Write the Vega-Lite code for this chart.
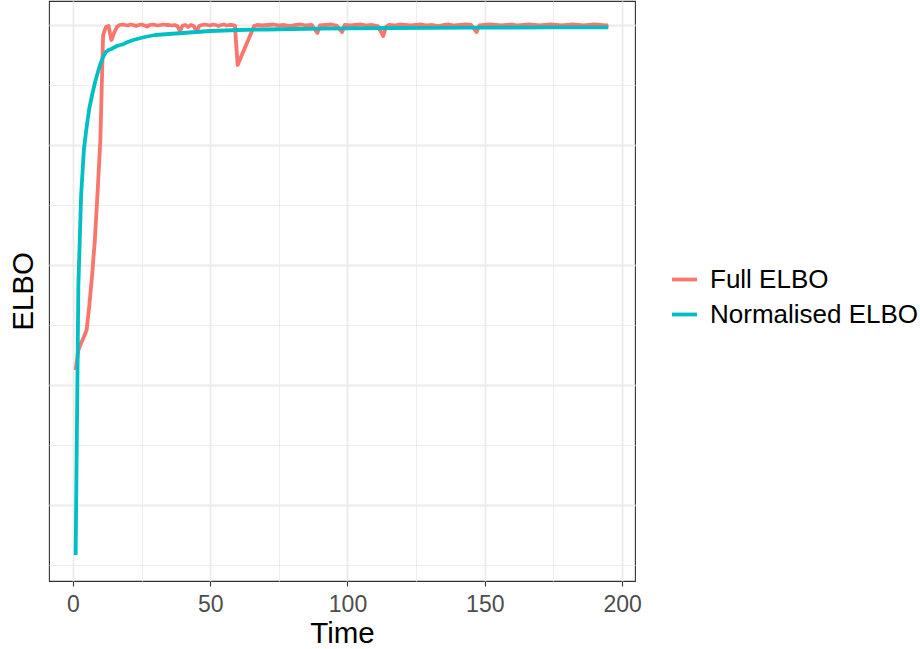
{
  "$schema": "https://vega.github.io/schema/vega-lite/v6.json",
  "autosize": "none",
  "width": 586,
  "height": 580,
  "padding": {"left": 49, "top": 1, "right": 285, "bottom": 68},
  "background": "white",
  "config": {
    "font": "Liberation Sans",
    "view": {"stroke": "#333333", "strokeWidth": 1.1},
    "axis": {"gridColor": "#EBEBEB", "domain": false}
  },
  "data": {
    "values": [
      {"t":1,"s":"Full ELBO","v":-34500},{"t":2,"s":"Full ELBO","v":-32500},{"t":3,"s":"Full ELBO","v":-31800},{"t":4,"s":"Full ELBO","v":-31200},{"t":5,"s":"Full ELBO","v":-30500},{"t":6,"s":"Full ELBO","v":-28000},{"t":7,"s":"Full ELBO","v":-25000},{"t":8,"s":"Full ELBO","v":-21500},{"t":9,"s":"Full ELBO","v":-16700},{"t":10,"s":"Full ELBO","v":-11500},{"t":11,"s":"Full ELBO","v":-1000},{"t":12,"s":"Full ELBO","v":-200},{"t":13,"s":"Full ELBO","v":-100},{"t":14,"s":"Full ELBO","v":-1500},{"t":15,"s":"Full ELBO","v":-800},{"t":16,"s":"Full ELBO","v":-200},{"t":17,"s":"Full ELBO","v":0},{"t":18,"s":"Full ELBO","v":50},{"t":19,"s":"Full ELBO","v":0},{"t":20,"s":"Full ELBO","v":-50},{"t":21,"s":"Full ELBO","v":50},{"t":22,"s":"Full ELBO","v":0},{"t":23,"s":"Full ELBO","v":-100},{"t":24,"s":"Full ELBO","v":0},{"t":25,"s":"Full ELBO","v":50},{"t":26,"s":"Full ELBO","v":-50},{"t":27,"s":"Full ELBO","v":-150},{"t":28,"s":"Full ELBO","v":0},{"t":29,"s":"Full ELBO","v":50},{"t":30,"s":"Full ELBO","v":0},{"t":31,"s":"Full ELBO","v":-50},{"t":32,"s":"Full ELBO","v":0},{"t":33,"s":"Full ELBO","v":50},{"t":34,"s":"Full ELBO","v":0},{"t":35,"s":"Full ELBO","v":0},{"t":36,"s":"Full ELBO","v":-50},{"t":37,"s":"Full ELBO","v":0},{"t":38,"s":"Full ELBO","v":-100},{"t":39,"s":"Full ELBO","v":-600},{"t":40,"s":"Full ELBO","v":-50},{"t":41,"s":"Full ELBO","v":0},{"t":42,"s":"Full ELBO","v":-200},{"t":43,"s":"Full ELBO","v":0},{"t":44,"s":"Full ELBO","v":-100},{"t":45,"s":"Full ELBO","v":-600},{"t":46,"s":"Full ELBO","v":-100},{"t":47,"s":"Full ELBO","v":0},{"t":48,"s":"Full ELBO","v":50},{"t":49,"s":"Full ELBO","v":0},{"t":50,"s":"Full ELBO","v":-50},{"t":51,"s":"Full ELBO","v":50},{"t":52,"s":"Full ELBO","v":0},{"t":53,"s":"Full ELBO","v":-100},{"t":54,"s":"Full ELBO","v":0},{"t":55,"s":"Full ELBO","v":50},{"t":56,"s":"Full ELBO","v":-50},{"t":57,"s":"Full ELBO","v":0},{"t":58,"s":"Full ELBO","v":0},{"t":59,"s":"Full ELBO","v":-50},{"t":60,"s":"Full ELBO","v":-4000},{"t":66,"s":"Full ELBO","v":-100},{"t":67,"s":"Full ELBO","v":0},{"t":69,"s":"Full ELBO","v":-50},{"t":71,"s":"Full ELBO","v":0},{"t":73,"s":"Full ELBO","v":50},{"t":75,"s":"Full ELBO","v":-50},{"t":77,"s":"Full ELBO","v":0},{"t":79,"s":"Full ELBO","v":-100},{"t":81,"s":"Full ELBO","v":0},{"t":83,"s":"Full ELBO","v":50},{"t":85,"s":"Full ELBO","v":-50},{"t":87,"s":"Full ELBO","v":0},{"t":89,"s":"Full ELBO","v":-800},{"t":90,"s":"Full ELBO","v":-50},{"t":92,"s":"Full ELBO","v":0},{"t":94,"s":"Full ELBO","v":50},{"t":96,"s":"Full ELBO","v":-50},{"t":98,"s":"Full ELBO","v":-700},{"t":99,"s":"Full ELBO","v":0},{"t":101,"s":"Full ELBO","v":-50},{"t":103,"s":"Full ELBO","v":0},{"t":105,"s":"Full ELBO","v":50},{"t":107,"s":"Full ELBO","v":-50},{"t":109,"s":"Full ELBO","v":0},{"t":111,"s":"Full ELBO","v":-100},{"t":113,"s":"Full ELBO","v":-1100},{"t":114,"s":"Full ELBO","v":-200},{"t":115,"s":"Full ELBO","v":0},{"t":117,"s":"Full ELBO","v":-50},{"t":119,"s":"Full ELBO","v":50},{"t":121,"s":"Full ELBO","v":0},{"t":123,"s":"Full ELBO","v":-50},{"t":125,"s":"Full ELBO","v":0},{"t":127,"s":"Full ELBO","v":50},{"t":129,"s":"Full ELBO","v":-50},{"t":131,"s":"Full ELBO","v":0},{"t":133,"s":"Full ELBO","v":-100},{"t":135,"s":"Full ELBO","v":0},{"t":137,"s":"Full ELBO","v":50},{"t":139,"s":"Full ELBO","v":-50},{"t":141,"s":"Full ELBO","v":0},{"t":143,"s":"Full ELBO","v":50},{"t":145,"s":"Full ELBO","v":0},{"t":147,"s":"Full ELBO","v":-700},{"t":148,"s":"Full ELBO","v":-50},{"t":150,"s":"Full ELBO","v":0},{"t":152,"s":"Full ELBO","v":50},{"t":154,"s":"Full ELBO","v":0},{"t":156,"s":"Full ELBO","v":-50},{"t":158,"s":"Full ELBO","v":0},{"t":160,"s":"Full ELBO","v":50},{"t":162,"s":"Full ELBO","v":-50},{"t":164,"s":"Full ELBO","v":0},{"t":166,"s":"Full ELBO","v":50},{"t":168,"s":"Full ELBO","v":0},{"t":170,"s":"Full ELBO","v":-50},{"t":172,"s":"Full ELBO","v":0},{"t":174,"s":"Full ELBO","v":50},{"t":176,"s":"Full ELBO","v":0},{"t":178,"s":"Full ELBO","v":-50},{"t":180,"s":"Full ELBO","v":0},{"t":182,"s":"Full ELBO","v":50},{"t":184,"s":"Full ELBO","v":0},{"t":186,"s":"Full ELBO","v":-50},{"t":188,"s":"Full ELBO","v":0},{"t":190,"s":"Full ELBO","v":50},{"t":192,"s":"Full ELBO","v":0},{"t":194,"s":"Full ELBO","v":-50},{"t":195,"s":"Full ELBO","v":0},
      {"t":1,"s":"Normalised ELBO","v":-53000},{"t":2,"s":"Normalised ELBO","v":-26000},{"t":3,"s":"Normalised ELBO","v":-17000},{"t":4,"s":"Normalised ELBO","v":-12500},{"t":5,"s":"Normalised ELBO","v":-10200},{"t":6,"s":"Normalised ELBO","v":-8300},{"t":7,"s":"Normalised ELBO","v":-7000},{"t":8,"s":"Normalised ELBO","v":-5800},{"t":9,"s":"Normalised ELBO","v":-4800},{"t":10,"s":"Normalised ELBO","v":-3900},{"t":11,"s":"Normalised ELBO","v":-3200},{"t":12,"s":"Normalised ELBO","v":-2700},{"t":13,"s":"Normalised ELBO","v":-2500},{"t":14,"s":"Normalised ELBO","v":-2400},{"t":15,"s":"Normalised ELBO","v":-2250},{"t":16,"s":"Normalised ELBO","v":-2100},{"t":18,"s":"Normalised ELBO","v":-1950},{"t":20,"s":"Normalised ELBO","v":-1700},{"t":22,"s":"Normalised ELBO","v":-1500},{"t":24,"s":"Normalised ELBO","v":-1350},{"t":27,"s":"Normalised ELBO","v":-1150},{"t":30,"s":"Normalised ELBO","v":-1000},{"t":35,"s":"Normalised ELBO","v":-900},{"t":40,"s":"Normalised ELBO","v":-800},{"t":45,"s":"Normalised ELBO","v":-700},{"t":50,"s":"Normalised ELBO","v":-600},{"t":55,"s":"Normalised ELBO","v":-550},{"t":60,"s":"Normalised ELBO","v":-500},{"t":70,"s":"Normalised ELBO","v":-450},{"t":80,"s":"Normalised ELBO","v":-400},{"t":90,"s":"Normalised ELBO","v":-360},{"t":100,"s":"Normalised ELBO","v":-330},{"t":115,"s":"Normalised ELBO","v":-300},{"t":130,"s":"Normalised ELBO","v":-280},{"t":145,"s":"Normalised ELBO","v":-260},{"t":160,"s":"Normalised ELBO","v":-250},{"t":175,"s":"Normalised ELBO","v":-240},{"t":195,"s":"Normalised ELBO","v":-230}
    ]
  },
  "mark": {"type": "line", "strokeWidth": 3.8, "strokeJoin": "round", "strokeCap": "butt"},
  "encoding": {
    "x": {
      "field": "t", "type": "quantitative",
      "scale": {"domain": [-8.7, 204.7], "nice": false, "zero": false},
      "axis": {
        "title": "Time",
        "values": [0, 25, 50, 75, 100, 125, 150, 175, 200],
        "labelExpr": "datum.value % 50 === 0 ? datum.label : ''",
        "tickOpacity": {"condition": {"test": "datum.value % 50 === 0", "value": 1}, "value": 0},
        "gridWidth": {"condition": {"test": "datum.value % 50 === 0", "value": 1.8}, "value": 0.9},
        "tickColor": "#333333", "tickWidth": 1.1, "tickSize": 5,
        "labelFontSize": 23, "labelColor": "#4D4D4D", "labelPadding": 7,
        "titleFontSize": 29.5, "titleColor": "#000000", "titleFontWeight": "normal", "titlePadding": 3
      }
    },
    "y": {
      "field": "v", "type": "quantitative",
      "scale": {"domain": [-55600, 2400], "nice": false, "zero": false},
      "axis": {
        "title": "ELBO",
        "values": [0, -6000, -12000, -18000, -24000, -30000, -36000, -42000, -48000, -54000],
        "labels": false, "ticks": false,
        "gridWidth": {"condition": {"test": "datum.value % 12000 === 0", "value": 1.8}, "value": 0.9},
        "titleFontSize": 29.5, "titleColor": "#000000", "titleFontWeight": "normal", "titlePadding": 11
      }
    },
    "color": {
      "field": "s", "type": "nominal",
      "scale": {"domain": ["Full ELBO", "Normalised ELBO"], "range": ["#F8766D", "#00BFC4"]},
      "legend": {
        "title": null, "orient": "none", "legendX": 621, "legendY": 264,
        "padding": 0,
        "symbolType": "stroke", "symbolSize": 625, "symbolStrokeWidth": 3.8,
        "labelFontSize": 26, "labelColor": "#000000", "labelOffset": 11, "labelLimit": 0,
        "rowPadding": 7
      }
    }
  }
}
